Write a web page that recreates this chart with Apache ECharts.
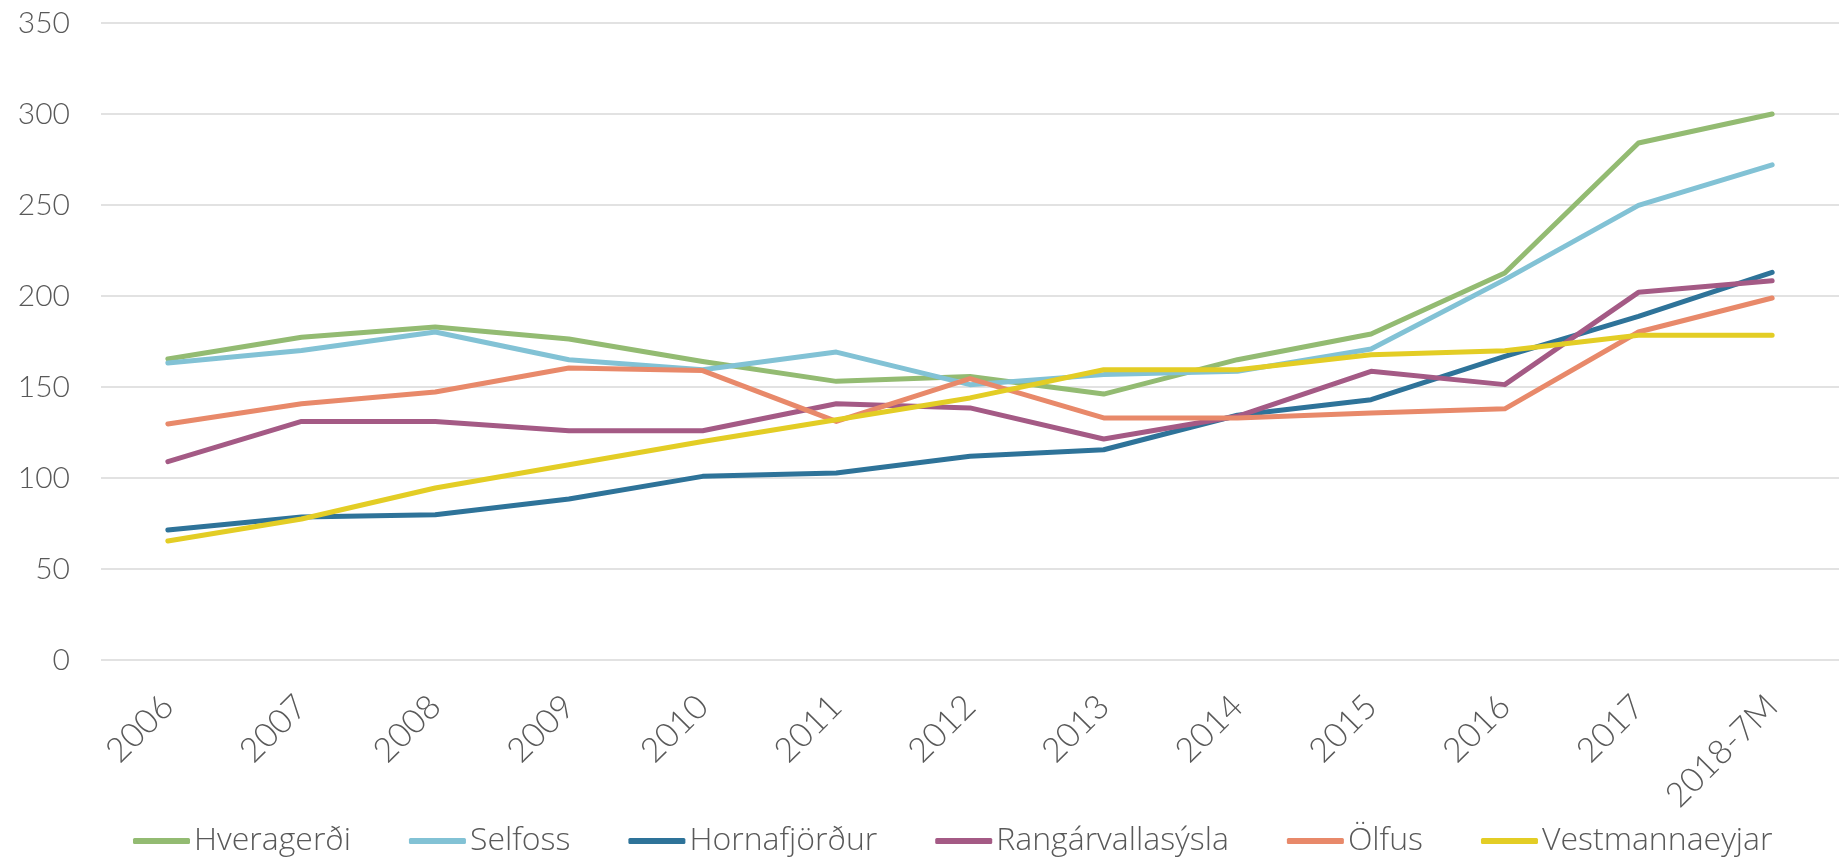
<!DOCTYPE html>
<html>
<head>
<meta charset="utf-8">
<script src="https://cdn.jsdelivr.net/npm/echarts@6/dist/echarts.min.js"></script>
<style>
  html, body { margin: 0; padding: 0; background: #ffffff; }
  #chart { width: 1839px; height: 858px; }
</style>
</head>
<body>
<div id="chart"></div>
<script>
// Years on the horizontal axis
const categories = ['2006', '2007', '2008', '2009', '2010', '2011', '2012', '2013', '2014', '2015', '2016', '2017', '2018-7M'];

// One series per municipality
const hveragerdi = [165.4, 177.3, 183.0, 176.4, 164.0, 153.1, 155.8, 146.1, 165.0, 179.1, 212.6, 284.1, 300.0];
const selfoss = [163.2, 170.0, 180.2, 165.0, 159.5, 169.2, 151.3, 156.8, 158.6, 170.9, 209.0, 249.8, 272.1];
const hornafjordur = [71.4, 78.6, 79.8, 88.5, 100.9, 102.7, 111.9, 115.5, 134.5, 143.0, 166.8, 188.8, 213.0];
const rangarvallasysla = [109.0, 131.1, 131.1, 126.0, 126.0, 140.8, 138.5, 121.4, 133.9, 158.6, 151.3, 202.0, 208.4];
const olfus = [129.7, 140.8, 147.3, 160.4, 159.0, 131.1, 154.6, 133.0, 133.0, 135.7, 138.0, 180.2, 198.9];
const vestmannaeyjar = [65.4, 77.5, 94.5, 107.3, 120.1, 132.0, 144.0, 159.5, 159.5, 167.7, 169.9, 178.4, 178.4];

// Value-axis tick labels
const yTicks = ['0', '50', '100', '150', '200', '250', '300', '350'];

const seriesNames = ['Hveragerði', 'Selfoss', 'Hornafjörður', 'Rangárvallasýsla', 'Ölfus', 'Vestmannaeyjar'];
const seriesData = [hveragerdi, selfoss, hornafjordur, rangarvallasysla, olfus, vestmannaeyjar];
const colors = ['#93BB72', '#82C2D5', '#2E7399', '#A45A85', '#E8896A', '#E3CD25'];

const chart = echarts.init(document.getElementById('chart'), null, { renderer: 'canvas' });

chart.setOption({
  animation: false,
  backgroundColor: '#ffffff',
  color: colors,
  grid: { left: 101, top: 23, width: 1761, bottom: 198, containLabel: false },
  legend: {
    left: 133,
    top: 825,
    padding: 0,
    itemWidth: 57,
    itemHeight: 6,
    itemGap: 58,
    icon: 'roundRect',
    textStyle: {
      fontFamily: 'Open Sans',
      fontWeight: 300,
      fontSize: 32,
      lineHeight: 32,
      color: '#595959',
      padding: [0, 0, 0, -1]
    },
    data: seriesNames
  },
  xAxis: {
    type: 'category',
    data: categories,
    boundaryGap: true,
    axisLine: { show: false },
    axisTick: { show: false },
    axisLabel: {
      rotate: 45,
      margin: 41,
      interval: 0,
      color: '#595959',
      fontFamily: 'Lato',
      fontWeight: 300,
      fontSize: 34
    }
  },
  yAxis: {
    type: 'value',
    min: 0,
    max: 350,
    interval: 50,
    axisLine: { show: false },
    axisTick: { show: false },
    splitLine: { lineStyle: { color: '#d9d9d9', width: 1.5 } },
    axisLabel: {
      margin: 31,
      color: '#595959',
      fontFamily: 'Lato',
      fontWeight: 300,
      fontSize: 30,
      formatter: function (v) {
        const i = Math.round(v / 50);
        return yTicks[i] !== undefined ? yTicks[i] : String(v);
      }
    }
  },
  series: seriesNames.map(function (name, i) {
    return {
      name: name,
      type: 'line',
      data: seriesData[i],
      symbol: 'none',
      smooth: false,
      lineStyle: { width: 5, color: colors[i], cap: 'round', join: 'round' },
      itemStyle: { color: colors[i] }
    };
  })
});
</script>
</body>
</html>
